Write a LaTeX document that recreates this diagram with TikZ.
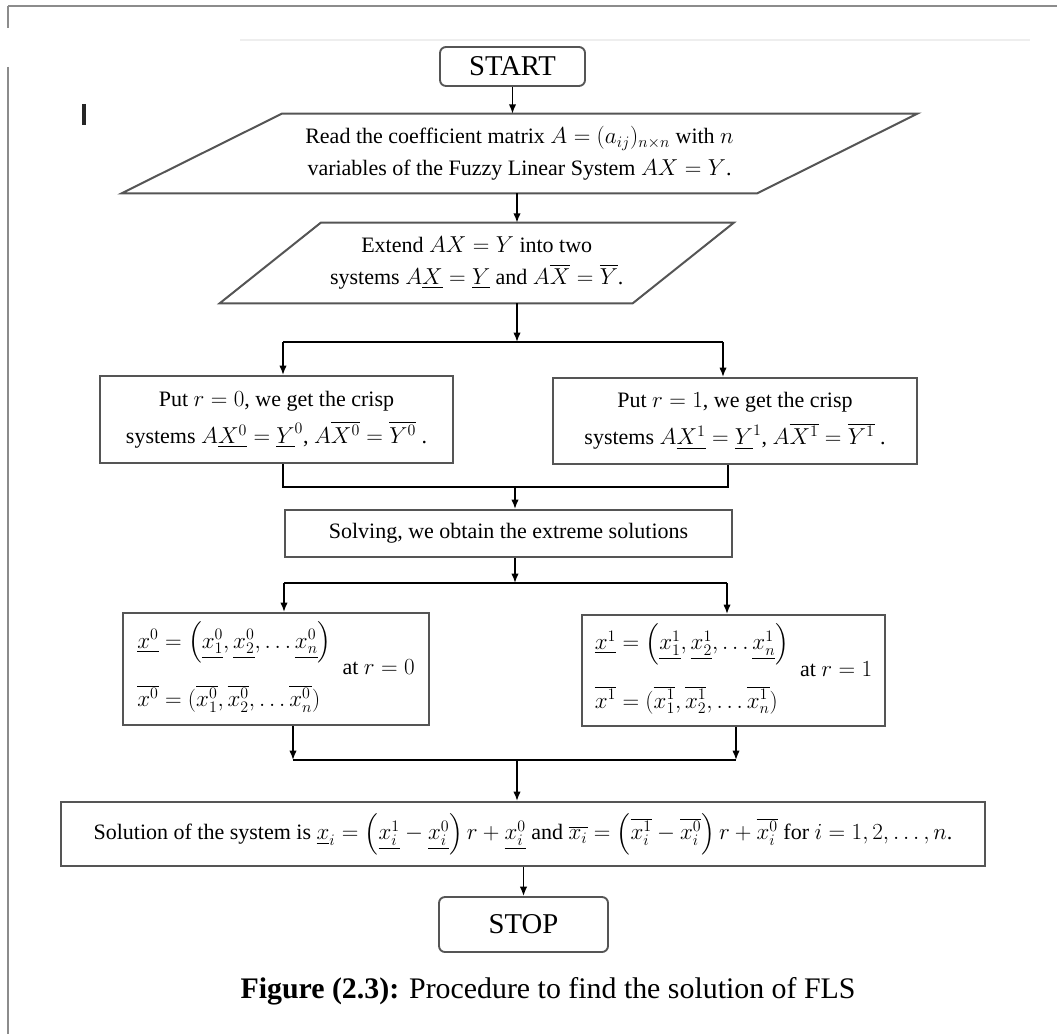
\documentclass[tikz,border=0pt]{standalone}
\usepackage{amsmath}
\usepackage{fontspec}
\setmainfont{Liberation Serif}
\usetikzlibrary{arrows.meta,calc}
\definecolor{boxgray}{RGB}{85,85,85}
\definecolor{framegray}{RGB}{140,140,140}
\definecolor{faintgray}{RGB}{238,238,238}
\newcommand{\ovl}[1]{\mathord{\vbox{\hrule height 0.45pt\kern1.4pt\hbox{$#1$}}}}
\begin{document}
\begin{tikzpicture}[x=0.75pt,y=-0.75pt,
  wh/.style 2 args={minimum width=#1*0.75pt,minimum height=#2*0.75pt},
  boxfont/.style={font=\fontsize{16.5}{24}\selectfont},
  box/.style={draw=boxgray,line width=1.5pt,inner sep=0pt,align=center,boxfont},
  plain/.style={inner sep=0pt,align=center,boxfont},
  term/.style={draw=boxgray,line width=1.4pt,rounded corners=4.5pt,inner sep=0pt,font=\fontsize{21.5}{24}\selectfont},
  boxline/.style={draw=boxgray,line width=1.5pt,line join=miter},
  arr/.style={draw=black,line width=1.1pt,-{Latex[length=7pt,width=5.5pt]}},
  ln/.style={draw=black,line width=1.1pt}]
\useasboundingbox (0,0) rectangle (1057,1034);
% frame
\draw[framegray,line width=1.6pt] (8,6) -- (1057,6);
\draw[framegray,line width=1.6pt] (8,6) -- (8,28);
\draw[framegray,line width=1.6pt] (8,67) -- (8,1034);
\draw[faintgray,line width=1.5pt] (240,40) -- (1030,40);
\draw[black!85,line width=2.6pt] (84,104) -- (84,125);
% nodes
\node[term,wh={145}{39}] (start) at (512.5,66.5) {START};
\node[plain,wh={635}{79}] (p1) at (519.5,153.5)
  {Read the coefficient matrix $A=(a_{ij})_{n\times n}$ with $n$\\
   variables of the Fuzzy Linear System $AX=Y$.};
\draw[boxline] ($(p1.north west)+(80,0)$) -- ($(p1.north east)+(80,0)$) -- ($(p1.south east)-(80,0)$) -- ($(p1.south west)-(80,0)$) -- cycle;
\node[plain,wh={412.5}{80}] (p2) at (476.75,263)
  {Extend $AX=Y$ into two\\
   systems $A\underline{X}=\underline{Y}$ and $A\overline{X}=\overline{Y}$.};
\draw[boxline] ($(p2.north west)+(50.5,0)$) -- ($(p2.north east)+(50.5,0)$) -- ($(p2.south east)-(50.5,0)$) -- ($(p2.south west)-(50.5,0)$) -- cycle;
\node[box,wh={353}{87}] (L0) at (276.5,419.5)
  {Put $r=0$, we get the crisp\\[4pt]
   systems $A\underline{X^0}=\underline{Y}^0$, $A\ovl{X^0}=\ovl{Y^0}$ .};
\node[box,wh={364}{86}] (R1) at (735,421)
  {Put $r=1$, we get the crisp\\[4pt]
   systems $A\underline{X^1}=\underline{Y}^1$, $A\ovl{X^1}=\ovl{Y^1}$ .};
\node[box,wh={447}{47}] (solve) at (508.5,533.5)
  {Solving, we obtain the extreme solutions};
\node[box,wh={306}{112}] (B0) at (276,669)
  {$\begin{array}{@{}l@{}}
    \underline{x^0}=\left(\underline{x_1^0},\underline{x_2^0},\ldots\underline{x_n^0}\right)\\[20pt]
    \ovl{x^0}=(\ovl{x_1^0},\ovl{x_2^0},\ldots\ovl{x_n^0})
   \end{array}$\enspace at $r=0$};
\node[box,wh={303}{111}] (B1) at (733.5,670.5)
  {$\begin{array}{@{}l@{}}
    \underline{x^1}=\left(\underline{x_1^1},\underline{x_2^1},\ldots\underline{x_n^1}\right)\\[20pt]
    \ovl{x^1}=(\ovl{x_1^1},\ovl{x_2^1},\ldots\ovl{x_n^1})
   \end{array}$\enspace at $r=1$};
\node[box,wh={924}{64}] (sol) at (523,834)
  {Solution of the system is $\underline{x}_i=\left(\underline{x_i^1}-\underline{x_i^0}\right)r+\underline{x_i^0}$ and $\ovl{x_i}=\left(\ovl{x_i^1}-\ovl{x_i^0}\right)r+\ovl{x_i^0}$ for $i=1,2,\ldots,n$.};
\node[term,wh={169}{55}] (stop) at (523.5,924.5) {STOP};
\node[inner sep=0pt,anchor=base,font=\fontsize{22.4}{27}\selectfont] (cap) at (548,998)
  {\textbf{Figure (2.3):} Procedure to find the solution of FLS};
% junctions
\coordinate (j1) at (517,342);
\coordinate (j1L) at (283,342);
\coordinate (j1R) at (723,342);
\coordinate (m1) at (515,487);
\coordinate (m1L) at (283,487);
\coordinate (m1R) at (728,487);
\coordinate (j2) at (515,583);
\coordinate (j2L) at (284,583);
\coordinate (j2R) at (727,583);
\coordinate (m2) at (517,760);
\coordinate (m2L) at (293,760);
\coordinate (m2R) at (736,760);
% connectors
\draw[arr] (start.south) -- (start.south |- p1.north);
\draw[arr] (p1.south -| j1) -- (p2.north -| j1);
\draw[arr] (p2.south -| j1) -- (j1);
\draw[ln] (j1L) -- (j1R);
\draw[arr] (j1L) -- (j1L |- L0.north);
\draw[arr] (j1R) -- (j1R |- R1.north);
\draw[ln] (m1L |- L0.south) -- (m1L) -- (m1R) -- (m1R |- R1.south);
\draw[arr] (m1) -- (m1 |- solve.north);
\draw[arr] (solve.south -| j2) -- (j2);
\draw[ln] (j2L) -- (j2R);
\draw[arr] (j2L) -- (j2L |- B0.north);
\draw[arr] (j2R) -- (j2R |- B1.north);
\draw[arr] (m2L |- B0.south) -- (m2L);
\draw[arr] (m2R |- B1.south) -- (m2R);
\draw[ln] (m2L) -- (m2R);
\draw[arr] (m2) -- (m2 |- sol.north);
\draw[arr] (sol.south -| stop.north) -- (stop.north);
\end{tikzpicture}
\end{document}
